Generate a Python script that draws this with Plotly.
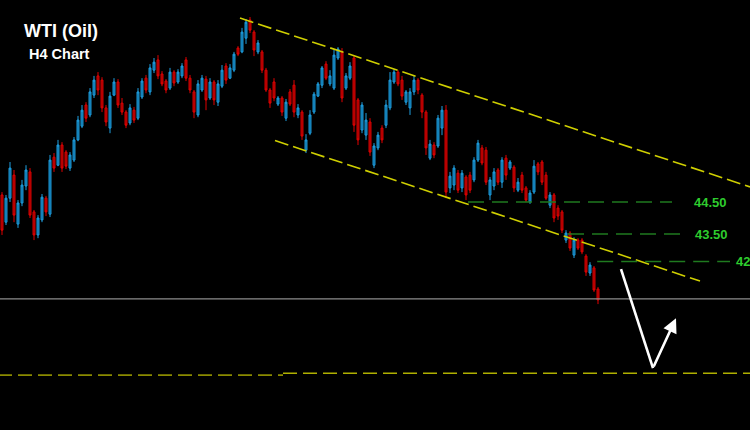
import plotly.graph_objects as go

# ---------------- data (prices) ----------------
open_ = [44.72,43.87,44.62,45.34,43.81,44.47,45.00,45.44,44.19,43.47,
         43.94,44.62,44.12,45.90,45.65,46.28,46.06,45.56,45.81,46.44,
         46.87,47.53,47.22,47.84,48.44,48.31,47.44,46.81,47.84,48.25,
         47.59,47.31,46.97,47.37,47.12,47.78,48.37,47.94,48.62,48.94,
         48.50,48.28,48.06,48.56,48.25,48.44,48.94,48.37,47.94,47.22,
         48.00,48.34,47.75,48.25,47.62,48.12,48.75,48.37,48.62,49.31,
         49.19,49.62,50.19,49.81,49.19,49.19,48.62,48.00,48.25,47.56,
         47.75,47.12,47.94,48.15,47.22,47.31,46.12,46.65,47.31,47.81,
         48.15,48.81,48.19,48.06,49.00,49.19,48.06,48.37,49.00,47.69,
         46.75,46.59,47.00,45.65,46.19,46.81,46.90,47.44,48.25,48.56,
         48.31,47.62,47.44,47.94,48.31,47.84,47.31,45.87,46.28,46.25,
         46.81,47.37,44.94,45.03,45.40,44.94,45.28,45.34,45.19,45.81,
         46.19,46.12,44.72,45.00,45.50,45.12,45.87,45.56,45.59,44.87,
         45.34,44.94,44.50,44.81,45.69,45.75,45.34,44.40,44.72,44.31,
         44.19,43.31,43.53,42.84,43.31,43.31,42.81,42.28,42.44,41.78]
high = [44.81,44.72,45.75,45.50,44.56,45.19,45.65,45.56,44.25,44.09,
        44.75,44.69,45.97,46.03,46.44,46.37,46.12,46.06,46.53,47.19,
        47.53,47.62,48.06,48.44,48.56,48.40,47.53,47.94,48.37,48.34,
        47.75,47.37,47.56,47.47,48.06,48.37,48.47,48.81,49.00,49.09,
        48.59,48.34,48.69,48.62,48.65,48.84,49.03,48.47,48.00,48.31,
        48.47,48.44,48.37,48.31,48.31,48.78,48.84,48.81,49.19,49.37,
        49.94,50.22,50.28,49.87,49.56,49.25,48.69,48.06,48.37,47.81,
        47.81,47.72,48.03,48.31,47.56,47.37,46.62,47.37,47.94,48.25,
        48.75,48.90,48.62,49.25,49.34,49.31,48.53,48.87,49.09,47.75,
        47.62,47.28,47.12,46.34,46.69,46.90,47.69,48.56,48.65,48.62,
        48.44,48.00,48.06,48.44,48.37,47.90,47.37,46.44,46.37,47.22,
        47.50,47.53,45.44,45.65,45.50,45.50,45.34,45.44,45.90,46.44,
        46.28,46.22,45.28,45.56,45.56,45.90,45.97,45.81,45.65,45.25,
        45.44,45.00,44.87,45.81,45.75,45.81,45.44,44.81,44.78,44.40,
        44.25,43.62,43.59,43.40,43.37,43.37,42.87,42.62,42.50,41.84]
low = [43.47,43.78,44.50,43.87,43.69,44.37,44.87,44.00,43.31,43.37,
       43.87,44.06,44.03,45.44,45.62,45.44,45.53,45.47,45.75,46.40,
       46.81,47.00,47.15,47.75,47.84,47.31,46.87,46.65,47.81,47.44,
       47.22,46.81,46.90,46.97,47.06,47.72,47.90,47.84,48.53,48.34,
       48.12,47.90,48.00,48.12,48.19,48.37,48.28,47.90,47.12,47.15,
       47.94,47.37,47.69,47.53,47.50,48.06,48.19,48.34,48.56,49.06,
       49.15,49.44,49.78,49.06,49.12,48.53,47.94,47.44,47.65,47.50,
       47.19,47.03,47.50,47.15,47.12,46.44,46.03,46.59,47.25,47.78,
       48.06,48.31,48.12,48.00,48.94,47.62,48.00,48.31,46.69,46.28,
       46.65,46.44,45.94,45.56,46.12,46.34,46.81,47.37,48.19,48.12,
       47.69,47.53,47.22,47.84,47.87,47.12,45.97,45.81,45.87,46.19,
       46.59,44.62,44.78,44.87,44.78,44.81,44.56,44.78,45.12,45.75,
       45.65,45.03,44.56,44.87,45.03,44.94,45.19,45.50,44.81,44.81,
       44.78,44.50,44.44,44.75,45.34,45.03,44.56,44.31,43.87,43.94,
       43.53,43.22,42.97,42.75,43.00,42.87,42.19,42.19,41.69,41.31]
close = [43.62,44.62,45.56,44.09,44.47,45.03,45.50,44.09,43.47,44.00,
         44.65,44.19,45.81,45.56,46.28,45.56,45.62,45.97,46.44,47.06,
         47.37,47.12,47.94,48.31,48.00,47.44,47.00,47.81,48.25,47.53,
         47.31,46.90,47.44,47.06,47.94,48.28,48.00,48.69,48.87,48.44,
         48.19,48.00,48.56,48.22,48.56,48.75,48.37,48.00,47.31,48.19,
         48.37,47.69,48.25,47.69,48.19,48.62,48.31,48.69,49.12,49.12,
         49.81,50.12,49.87,49.25,49.47,48.62,48.00,47.59,47.75,47.75,
         47.31,47.62,47.56,47.31,47.44,46.56,46.44,47.22,47.87,48.19,
         48.69,48.37,48.44,49.09,49.28,47.75,48.44,48.75,46.90,46.44,
         47.53,47.06,46.06,46.25,46.59,46.44,47.53,48.31,48.56,48.19,
         47.81,47.94,47.94,48.31,48.00,47.31,46.19,46.31,45.97,47.12,
         47.37,44.81,45.31,45.56,44.87,45.40,44.72,44.87,45.81,46.34,
         45.72,45.12,45.19,45.44,45.12,45.81,45.34,45.75,44.94,45.12,
         44.87,44.56,44.78,45.62,45.44,45.12,44.62,44.72,44.00,44.06,
         43.62,43.53,43.06,43.31,43.06,42.94,42.31,42.53,41.75,41.44]
bars = list(range(len(close)))

# levels / drawings (bar index, price)
upper_channel_x = [59.5, 187.0]
upper_channel_y = [50.25, 44.97]
lower_channel_x = [68.25, 174.5]
lower_channel_y = [46.42, 42.03]
level_values = [44.50, 43.50, 42.64]
level_labels = ["44.50", "43.50", "42.50"]
level_start = [116.5, 141.5, 148.8]
level_end = [167.5, 169.5, 182.0]
current_price = 41.47
target_left = 39.09
target_right = 39.15
arrow_x = [154.75, 162.75, 168.5]
arrow_y = [42.40, 39.31, 40.87]

fig = go.Figure()

# trend channel
fig.add_trace(go.Scatter(x=upper_channel_x, y=upper_channel_y, mode="lines",
                         line=dict(color="#cfcf00", width=1.6, dash="14px,5px"),
                         hoverinfo="skip", showlegend=False))
fig.add_trace(go.Scatter(x=lower_channel_x, y=lower_channel_y, mode="lines",
                         line=dict(color="#cfcf00", width=1.6, dash="14px,5px"),
                         hoverinfo="skip", showlegend=False))

# green levels
for v, s, e in zip(level_values, level_start, level_end):
    fig.add_trace(go.Scatter(x=[s, e], y=[v, v], mode="lines",
                             line=dict(color="#1f7a1f", width=1.6, dash="16px,8px"),
                             hoverinfo="skip", showlegend=False))

# current price line
fig.add_trace(go.Scatter(x=[-1, 190], y=[current_price, current_price], mode="lines",
                         line=dict(color="#8c8c8c", width=1.2),
                         hoverinfo="skip", showlegend=False))

# target line
fig.add_trace(go.Scatter(x=[-1, 70.25], y=[target_left, target_left], mode="lines",
                         line=dict(color="#8a8a00", width=1.6, dash="14px,6px"),
                         hoverinfo="skip", showlegend=False))
fig.add_trace(go.Scatter(x=[70.25, 190], y=[target_right, target_right], mode="lines",
                         line=dict(color="#b0b000", width=1.6, dash="14px,6px"),
                         hoverinfo="skip", showlegend=False))

# candles
fig.add_trace(go.Candlestick(
    x=bars, open=open_, high=high, low=low, close=close,
    increasing=dict(line=dict(color="#1e9fe0", width=1), fillcolor="#0d6796"),
    decreasing=dict(line=dict(color="#e00000", width=1), fillcolor="#930000"),
    whiskerwidth=0, showlegend=False, hoverinfo="skip"))

# white V arrow
fig.add_trace(go.Scatter(x=arrow_x[:2], y=arrow_y[:2], mode="lines",
                         line=dict(color="white", width=2.6),
                         hoverinfo="skip", showlegend=False))
fig.add_annotation(x=arrow_x[2], y=arrow_y[2], ax=arrow_x[1], ay=arrow_y[1],
                   xref="x", yref="y", axref="x", ayref="y",
                   showarrow=True, arrowhead=2, arrowsize=1.1, arrowwidth=2.6,
                   arrowcolor="white", text="")

# level labels
for v, lab, xpos, anc in zip(level_values, level_labels, [0.947, 0.948, 0.978],
                             ["center", "center", "left"]):
    fig.add_annotation(x=xpos, y=v, xref="paper", yref="y", text="<b>%s</b>" % lab,
                       showarrow=False, xanchor=anc, yanchor="middle",
                       font=dict(family="Liberation Sans, Arial", size=13, color="#2ecc2e"))

# titles
fig.add_annotation(x=61 / 750, y=1 - 31 / 430, xref="paper", yref="paper",
                   text="<b>WTI (Oil)</b>", showarrow=False,
                   xanchor="center", yanchor="middle",
                   font=dict(family="Liberation Sans, Arial", size=18, color="white"))
fig.add_annotation(x=59 / 750, y=1 - 54 / 430, xref="paper", yref="paper",
                   text="<b>H4 Chart</b>", showarrow=False,
                   xanchor="center", yanchor="middle",
                   font=dict(family="Liberation Sans, Arial", size=14.5, color="white"))

fig.update_layout(
    width=750, height=430,
    margin=dict(l=0, r=0, t=0, b=0),
    paper_bgcolor="black", plot_bgcolor="black",
    showlegend=False,
    xaxis=dict(range=[-0.5, 187], visible=False, showgrid=False,
               rangeslider=dict(visible=False), fixedrange=True),
    yaxis=dict(range=[37.375, 50.8125], visible=False, showgrid=False, fixedrange=True),
)

fig.write_html("out.html", config={"displayModeBar": False},
               post_script="document.body.style.margin='0';document.body.style.background='black';")
